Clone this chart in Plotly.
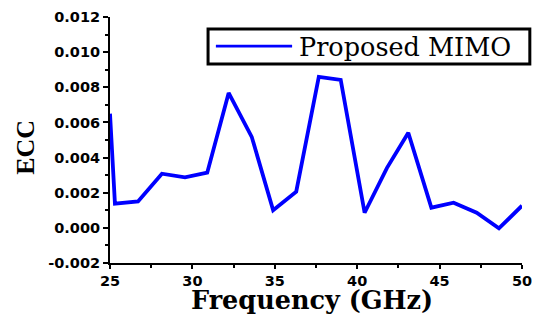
import plotly.graph_objects as go

freq = [25.0, 25.3, 26.7, 28.15, 29.55, 30.9, 32.2, 33.6, 34.9, 36.3, 37.67, 39.0,
        40.45, 41.8, 43.1, 44.5, 45.85, 47.25, 48.6, 50.0]
ecc = [0.0065, 0.00138, 0.0015, 0.00308, 0.00287, 0.00314, 0.00768, 0.00518, 0.00100,
       0.00206, 0.00859, 0.00842, 0.00086, 0.00340, 0.00541, 0.00115, 0.00143, 0.00086,
       -0.00003, 0.00126]
y_ticks = [-0.002, 0.000, 0.002, 0.004, 0.006, 0.008, 0.010, 0.012]
y_labels = ["-0.002", "0.000", "0.002", "0.004", "0.006", "0.008", "0.010", "0.012"]
x_ticks = [25, 30, 35, 40, 45, 50]
series_name = "Proposed MIMO"
line_color = "#0000FF"

fig = go.Figure()
fig.add_trace(go.Scatter(x=freq, y=ecc, mode="lines", name=series_name,
                         line=dict(color=line_color, width=3.8), showlegend=False))

tickfont = dict(family="DejaVu Sans", size=14.5, color="black", weight="bold")

# hand-drawn legend box (paper coordinates)
fig.add_shape(type="rect", xref="paper", yref="paper", x0=0.238, x1=1.019, y0=0.809, y1=0.951,
              line=dict(color="black", width=3), fillcolor="white", layer="above")
fig.add_shape(type="line", xref="paper", yref="paper", x0=0.257, x1=0.442, y0=0.882, y1=0.882,
              line=dict(color=line_color, width=2.8), layer="above")
fig.add_annotation(xref="paper", yref="paper", x=0.454, y=0.879, xanchor="left", yanchor="middle",
                   text=series_name, showarrow=False,
                   font=dict(family="DejaVu Serif", size=25.5, color="black"))
# axis titles
fig.add_annotation(xref="paper", yref="paper", x=-0.204, y=0.472, xanchor="center", yanchor="middle",
                   text="ECC", textangle=-90, showarrow=False,
                   font=dict(family="Liberation Serif", size=26, color="black", weight="bold"))
fig.add_annotation(xref="paper", yref="paper", x=0.49, y=-0.151, xanchor="center", yanchor="middle",
                   text="Frequency (GHz)", showarrow=False,
                   font=dict(family="DejaVu Serif", size=25.5, color="black", weight="bold"))

# page body has an 8px margin, so the figure is shifted by 8px; compensate
fig.update_layout(
    width=534, height=306,
    margin=dict(l=102, r=20, t=9, b=51, autoexpand=False),
    paper_bgcolor="white", plot_bgcolor="white",
    showlegend=False,
    xaxis=dict(range=[25, 50], tickvals=x_ticks, ticktext=[str(v) for v in x_ticks],
               showgrid=False, zeroline=False, showline=True, linecolor="black", linewidth=2,
               ticks="outside", ticklen=4, tickwidth=2, tickcolor="black",
               tickfont=tickfont, automargin=False,
               minor=dict(dtick=2.5, tick0=25, ticks="outside", ticklen=3, tickwidth=2, tickcolor="black")),
    yaxis=dict(range=[-0.002, 0.012], tickvals=y_ticks, ticktext=y_labels,
               showgrid=False, zeroline=False, showline=True, linecolor="black", linewidth=2,
               ticks="outside", ticklen=5, tickwidth=2, tickcolor="black",
               tickfont=tickfont, automargin=False,
               minor=dict(dtick=0.001, tick0=0, ticks="outside", ticklen=3, tickwidth=2, tickcolor="black")),
)

fig.write_html("out.html")
